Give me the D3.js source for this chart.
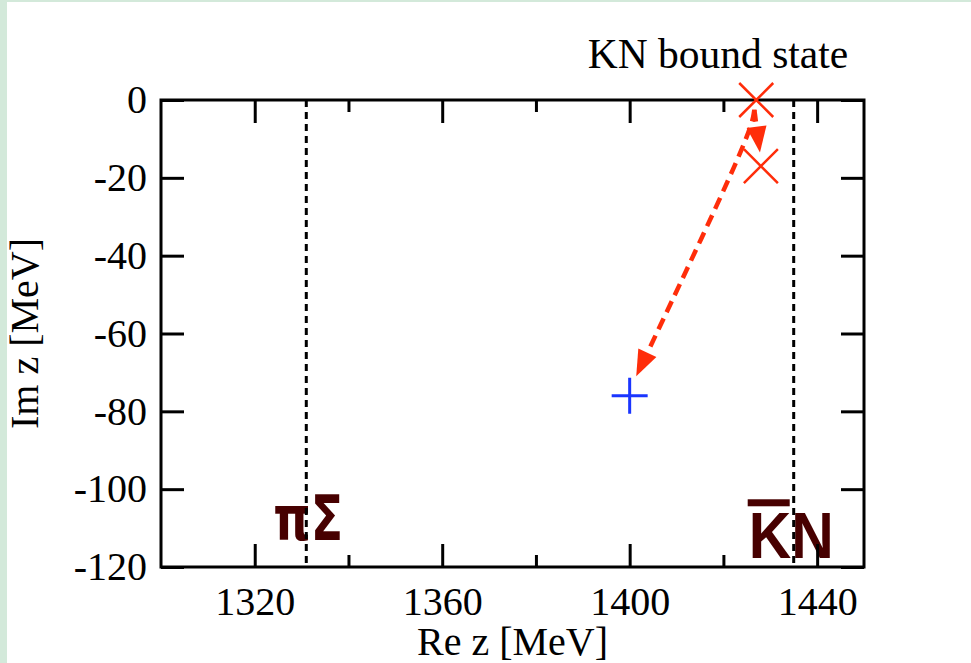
<!DOCTYPE html>
<html>
<head>
<meta charset="utf-8">
<script src="https://cdn.jsdelivr.net/npm/d3@7"></script>
<style>
  body { margin: 0; background: #fff; }
  text { font-family: "Liberation Serif", "Times New Roman", serif; }
</style>
</head>
<body>
<svg width="971" height="663"></svg>
<script>
// values
const xMajor = [1320, 1360, 1400, 1440]
const xMinor = [1340, 1380, 1420]
const yTicks = [0, -20, -40, -60, -80, -100, -120]
const thresholds = [
  { name: 'πΣ', re: 1331, labelY: -113 },
  { name: 'KN', re: 1435, labelY: -117.8, bar: true }
]
const boundStates = [[1427, 0], [1428, -17]]   // red crosses
const pole = [[1400, -76]]                       // blue plus
const arrows = [
  [[1426.6, -2.5], [1427.8, -13.5]],
  [[1426.6, -2.5], [1425.8, -9], [1401.4, -71]]
]

const svg = d3.select('svg')
const margin = { top: 100, right: 107, bottom: 96, left: 161 }
const width = svg.attr('width') - margin.left - margin.right
const height = svg.attr('height') - margin.top - margin.bottom

// light green frame of the slide
svg.append('rect').attr('x', 0).attr('y', 0).attr('width', 971).attr('height', 663).attr('fill', '#d3e9da')
svg.append('rect').attr('x', 7).attr('y', 2).attr('width', 964).attr('height', 661).attr('fill', '#fff')

const x = d3.scaleLinear().domain([1300, 1450]).range([0, width])
const y = d3.scaleLinear().domain([-120, 0]).range([height, 0])

const g = svg.append('g').attr('transform', `translate(${margin.left},${margin.top})`)

// threshold labels (under the axes)
const lab = g.selectAll('.thr').data(thresholds).enter().append('g').attr('class', 'thr')
lab.append('text')
  .attr('x', d => d.bar ? x(d.re) - 45 : x(d.re) - 33)
  .attr('y', d => y(d.labelY))
  .attr('fill', '#470000')
  .attr('textLength', d => d.bar ? 85 : 70)
  .attr('lengthAdjust', 'spacingAndGlyphs')
  .style('font-family', d => d.bar ? '"Liberation Sans", Arial, sans-serif' : '"DejaVu Sans", sans-serif')
  .style('font-weight', 'bold')
  .style('font-size', d => d.bar ? '65px' : '63px')
  .text(d => d.name)
lab.filter(d => d.bar).append('rect')
  .attr('x', d => x(d.re) - 46)
  .attr('y', y(-102.6))
  .attr('width', 42).attr('height', 7)
  .attr('fill', '#470000')

// dotted threshold lines
g.selectAll('.vline').data(thresholds).enter().append('line')
  .attr('x1', d => x(d.re)).attr('x2', d => x(d.re))
  .attr('y1', 0).attr('y2', height)
  .attr('stroke', '#000').attr('stroke-width', 3)
  .attr('stroke-dasharray', '7,5')

// axes
const styleAxis = a => {
  a.select('.domain').remove()
  a.selectAll('line').attr('stroke', '#000').attr('stroke-width', 3)
  a.selectAll('text').attr('fill', '#000').style('font-size', '40px')
}
g.append('g').attr('transform', `translate(0,${height})`)
  .call(d3.axisBottom(x).tickValues(xMajor).tickSize(-23).tickPadding(20).tickFormat(d3.format('d')))
  .call(styleAxis)
g.append('g').attr('transform', `translate(0,${height})`)
  .call(d3.axisBottom(x).tickValues(xMinor).tickSize(-12).tickFormat(''))
  .call(styleAxis)
g.append('g').call(d3.axisTop(x).tickValues(xMajor).tickSize(-23).tickFormat(''))
  .call(styleAxis)
g.append('g').call(d3.axisTop(x).tickValues(xMinor).tickSize(-12).tickFormat(''))
  .call(styleAxis)
g.append('g').call(d3.axisLeft(y).tickValues(yTicks).tickSize(-23).tickPadding(14).tickFormat(d3.format('d')))
  .call(styleAxis)
g.append('g').attr('transform', `translate(${width},0)`)
  .call(d3.axisRight(y).tickValues(yTicks).tickSize(-23).tickFormat(''))
  .call(styleAxis)
g.selectAll('.tick text').filter(function () { return this.textContent.startsWith('−') })
  .text(function () { return this.textContent.replace('−', '-') })

g.append('rect').attr('width', width).attr('height', height)
  .attr('fill', 'none').attr('stroke', '#000').attr('stroke-width', 3)

// red dashed arrows
const red = '#ff2d0a'
arrows.forEach(pts => {
  const tip = [x(pts[pts.length - 1][0]), y(pts[pts.length - 1][1])]
  const prev = [x(pts[pts.length - 2][0]), y(pts[pts.length - 2][1])]
  const ang = Math.atan2(tip[1] - prev[1], tip[0] - prev[0])
  const len = 26, half = 10
  const base = [tip[0] - len * Math.cos(ang), tip[1] - len * Math.sin(ang)]
  const body = pts.slice(0, -1).map(p => [x(p[0]), y(p[1])]).concat([base])
  g.append('path')
    .attr('d', d3.line().curve(d3.curveBasis)(body))
    .attr('fill', 'none').attr('stroke', red).attr('stroke-width', 4.5)
    .attr('stroke-dasharray', '12,7')
  const px = -Math.sin(ang), py = Math.cos(ang)
  g.append('path')
    .attr('d', `M${tip}L${base[0] + px * half},${base[1] + py * half}L${base[0] - px * half},${base[1] - py * half}Z`)
    .attr('fill', red)
})

// markers
const s = 17
g.selectAll('.cross').data(boundStates).enter().append('path')
  .attr('d', d => `M${x(d[0]) - s},${y(d[1]) - s}L${x(d[0]) + s},${y(d[1]) + s}M${x(d[0]) - s},${y(d[1]) + s}L${x(d[0]) + s},${y(d[1]) - s}`)
  .attr('stroke', red).attr('stroke-width', 2.5).attr('fill', 'none')
g.selectAll('.plus').data(pole).enter().append('path')
  .attr('d', d => `M${x(d[0]) - 18},${y(d[1])}H${x(d[0]) + 18}M${x(d[0])},${y(d[1]) - 18}V${y(d[1]) + 18}`)
  .attr('stroke', '#1a35ff').attr('stroke-width', 3).attr('fill', 'none')

// titles
svg.append('text').attr('x', 718).attr('y', 68).attr('text-anchor', 'middle')
  .style('font-size', '41.5px').text('KN bound state')
svg.append('text').attr('x', margin.left + width / 2).attr('y', 655).attr('text-anchor', 'middle')
  .style('font-size', '40px').text('Re z [MeV]')
svg.append('text').attr('transform', `translate(38,${margin.top + height / 2}) rotate(-90)`)
  .attr('text-anchor', 'middle').style('font-size', '40px').text('Im z [MeV]')
</script>
</body>
</html>
